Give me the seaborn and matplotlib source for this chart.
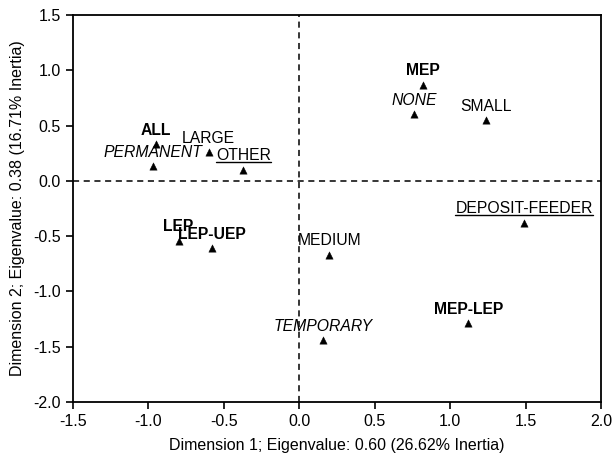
import matplotlib
matplotlib.use("Agg")
import matplotlib.pyplot as plt
import seaborn as sns
import pandas as pd

# Category coordinates on the first two correspondence-analysis dimensions
labels = ["ALL", "PERMANENT", "LARGE", "OTHER", "LEP", "LEP-UEP", "MEDIUM",
          "TEMPORARY", "MEP-LEP", "DEPOSIT-FEEDER", "MEP", "NONE", "SMALL"]
dim1 = [-0.95, -0.97, -0.60, -0.37, -0.80, -0.58, 0.20,
        0.16, 1.12, 1.49, 0.82, 0.76, 1.24]
dim2 = [0.33, 0.13, 0.26, 0.10, -0.54, -0.61, -0.67,
        -1.44, -1.29, -0.38, 0.87, 0.60, 0.55]
# Variable group of each category (sets the label style)
groups = ["bold", "italic", "plain", "underline", "bold", "bold", "plain",
          "italic", "bold", "underline", "bold", "italic", "plain"]

x_ticks = [-1.5, -1.0, -0.5, 0.0, 0.5, 1.0, 1.5, 2.0]
y_ticks = [-2.0, -1.5, -1.0, -0.5, 0.0, 0.5, 1.0, 1.5]

df = pd.DataFrame({"label": labels, "dim1": dim1, "dim2": dim2, "group": groups})

sns.set_theme(style="ticks")
plt.rcParams["font.family"] = ["Liberation Sans", "DejaVu Sans"]

fig = plt.figure(figsize=(6.14, 4.58), dpi=100)
ax = fig.add_axes([0.1189, 0.1223, 0.86, 0.845])

ax.axhline(0, color="black", lw=1.1, ls=(0, (4, 3)), zorder=1)
ax.axvline(0, color="black", lw=1.1, ls=(0, (4, 3)), zorder=1)

sns.scatterplot(data=df, x="dim1", y="dim2", marker="^", color="black",
                s=28, edgecolor="black", linewidth=0.3, ax=ax, zorder=3)

style_map = {
    "bold": dict(fontweight="bold"),
    "italic": dict(fontstyle="italic"),
    "plain": dict(),
    "underline": dict(),
}
texts = []
for _, r in df.iterrows():
    t = ax.annotate(r["label"], (r["dim1"], r["dim2"]), xytext=(0, 14),
                    textcoords="offset pixels", ha="center", va="center",
                    fontsize=11.3, color="black", zorder=4,
                    **style_map[r["group"]])
    texts.append((t, r["group"]))

ax.set_xlim(-1.5, 2.0)
ax.set_ylim(-2.0, 1.5)
ax.set_xticks(x_ticks)
ax.set_yticks(y_ticks)
ax.set_xticklabels([f"{v:.1f}" for v in x_ticks])
ax.set_yticklabels([f"{v:.1f}" for v in y_ticks])
ax.tick_params(axis="both", direction="out", length=5, width=1.2,
               labelsize=11.5, colors="black", pad=4)
for sp in ax.spines.values():
    sp.set_visible(True)
    sp.set_color("black")
    sp.set_linewidth(1.3)

ax.set_xlabel("Dimension 1; Eigenvalue: 0.60 (26.62% Inertia)", fontsize=11.5,
              color="black", labelpad=6)
ax.set_ylabel("Dimension 2; Eigenvalue: 0.38 (16.71% Inertia)", fontsize=11.5,
              color="black", labelpad=6)

# Underline the labels of the underlined group
fig.canvas.draw()
renderer = fig.canvas.get_renderer()
inv = fig.transFigure.inverted()
for t, g in texts:
    if g != "underline":
        continue
    bb = t.get_window_extent(renderer)
    (x0, y0) = inv.transform((bb.x0, bb.y0 + 1))
    (x1, _) = inv.transform((bb.x1, bb.y0 + 1))
    fig.add_artist(plt.Line2D([x0, x1], [y0, y0], color="black", lw=1.0,
                              transform=fig.transFigure))

fig.savefig("out.png", dpi=100)
